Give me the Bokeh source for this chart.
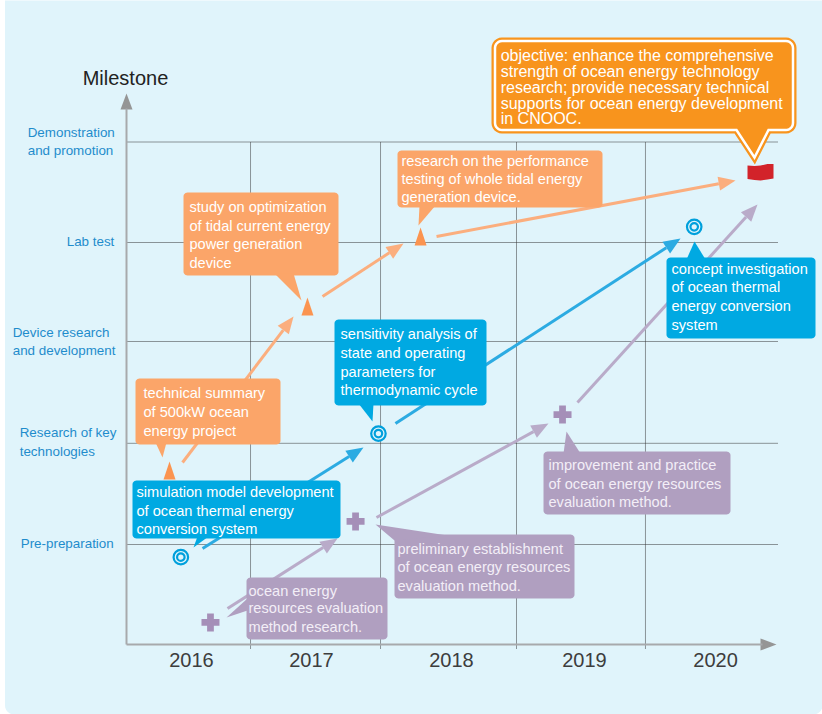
from bokeh.embed import file_html
from bokeh.resources import INLINE
from bokeh.plotting import figure
from bokeh.models import Range1d, LinearAxis, FixedTicker
from bokeh.core.properties import value
import math

# ---------- data: x = year position on the timeline, y = milestone level ----------
YEAR_TICKS = [2016.5, 2017.423, 2018.5, 2019.523, 2020.531]
YEAR_LABELS = ["2016", "2017", "2018", "2019", "2020"]
YEAR_EDGES = [2016.954, 2017.954, 2019.0, 2019.992]
LEVELS = [0.994, 2.0, 3.012, 3.996, 4.995]

ORANGE_X = [2016.331, 2017.392, 2018.262]
ORANGE_Y = [1.730, 3.360, 4.056]
BLUE_X = [2016.418, 2017.938, 2020.367]
BLUE_Y = [0.868, 2.097, 4.152]
PURPLE_X = [2016.646, 2017.762, 2019.354]
PURPLE_Y = [0.219, 1.223, 2.286]
FLAG_X = 2020.877
FLAG_Y = 4.692

# arrows: start year, start level, end year, end level
ORANGE_ARROWS = [(2016.431, 1.809, 2017.285, 3.260),
                 (2017.508, 3.459, 2018.131, 3.986),
                 (2018.385, 4.056, 2020.685, 4.612)]
BLUE_ARROWS = [(2016.585, 0.954, 2017.823, 1.958),
               (2018.069, 2.197, 2020.262, 4.036)]
PURPLE_ARROWS = [(2016.777, 0.358, 2017.623, 1.054),
                 (2017.923, 1.262, 2019.246, 2.197),
                 (2019.469, 2.406, 2020.854, 4.374)]

Y_LABELS = [("Demonstration", 28, 132.5), ("and promotion", 28, 150.5), ("Lab test", 67, 241.5),
            ("Device research", 13, 332.5), ("and development", 13, 350.5),
            ("Research of key", 20, 432.5), ("technologies", 20, 451.5), ("Pre-preparation", 21, 543.5)]

# callouts: box, tail, text left, [(line, centre)]
ORANGE_BOX = "#fba569"
BLUE_BOX = "#00a9e2"
PURPLE_BOX = "#b09fc0"
CALLOUTS = [
    ((183, 192, 338, 275), [(274, 273), (293, 273), (301, 300)], 189, ORANGE_BOX, "white",
     [("study on optimization", 207), ("of tidal current energy", 226), ("power generation", 244.5), ("device", 263)]),
    ((397, 150, 602, 207), [(419, 205), (435, 205), (418, 225)], 401, ORANGE_BOX, "white",
     [("research on the performance", 161), ("testing of whole tidal energy", 179), ("generation device.", 197)]),
    ((135, 378, 280, 444), [(155, 442), (166, 442), (162, 457)], 143, ORANGE_BOX, "white",
     [("technical summary", 393), ("of 500kW ocean", 412), ("energy project", 431)]),
    ((132, 480, 340, 538), [(197, 536), (208, 536), (193, 547)], 136, BLUE_BOX, "white",
     [("simulation model development", 492), ("of ocean thermal energy", 511), ("conversion system", 529)]),
    ((334, 319, 486, 405), [(358, 403), (373, 403), (372, 421)], 340, BLUE_BOX, "white",
     [("sensitivity analysis of", 334), ("state and operating", 353), ("parameters for", 372), ("thermodynamic cycle", 390)]),
    ((666, 257, 815, 338), [(686, 259), (705, 259), (694, 241)], 671, BLUE_BOX, "white",
     [("concept investigation", 269), ("of ocean thermal", 287), ("energy conversion", 306), ("system", 325)]),
    ((246, 577, 387, 639), [(247, 598), (247, 610), (226, 617)], 248, PURPLE_BOX, "#f3eef7",
     [("ocean energy", 591), ("resources evaluation", 608), ("method research.", 627)]),
    ((394, 534, 574, 598), [(375, 524), (447, 535), (394, 540)], 397, PURPLE_BOX, "#f3eef7",
     [("preliminary establishment", 549), ("of ocean energy resources", 567), ("evaluation method.", 586)]),
    ((543, 451, 730, 514), [(563, 453), (580, 453), (566, 431)], 548, PURPLE_BOX, "#f3eef7",
     [("improvement and practice", 465), ("of ocean energy resources", 484), ("evaluation method.", 502)]),
]
OBJECTIVE_LINES = [("objective: enhance the comprehensive", 56), ("strength of ocean energy technology", 72),
                   ("research; provide necessary technical", 88), ("supports for ocean energy development", 104),
                   ("in CNOOC.", 119)]
FLAG_OUTLINE = [(-13, -7), (-6, -6.5), (0, -7), (7, -8.5), (13, -8.5),
                (13, 6), (7, 7), (0, 8), (-6, 7.5), (-13, 6.5)]

# ---------- scales ----------
W, H = 822, 714
PX_YEAR, PX_LEVEL = 130.0, 100.6
X_ORIGIN, Y_ORIGIN = 126.0, 644.0
TEXT_DX, TEXT_DY = -0.8, -0.8


def X(px):
    return 2016 + (px - X_ORIGIN) / PX_YEAR


def Y(py):
    return (Y_ORIGIN - py) / PX_LEVEL


FONT = value("Liberation Sans")
p = figure(width=W, height=H, output_backend="svg", toolbar_location=None,
           x_range=Range1d(X(0), X(W)), y_range=Range1d(Y(H), Y(0)),
           x_axis_type=None, y_axis_type=None, min_border=0, outline_line_color=None,
           background_fill_color="white", border_fill_color="white")
p.styles = {"position": "absolute", "left": "0", "top": "0"}
p.grid.visible = False


def arc_pts(cx, cy, r, a0, a1, n=6):
    return [(cx + r * math.cos(math.radians(a0 + (a1 - a0) * i / n)),
             cy + r * math.sin(math.radians(a0 + (a1 - a0) * i / n))) for i in range(n + 1)]


def rounded(x0, y0, x1, y1, r, bottom_tail=()):
    pts = []
    pts += arc_pts(x0 + r, y0 + r, r, 180, 270)
    pts += arc_pts(x1 - r, y0 + r, r, 270, 360)
    pts += arc_pts(x1 - r, y1 - r, r, 0, 90)
    pts += list(bottom_tail)
    pts += arc_pts(x0 + r, y1 - r, r, 90, 180)
    return [X(a) for a, _ in pts], [Y(b) for _, b in pts]


# panel
px, py = rounded(4.5, -20, 822, 714, 9)
p.patch(px, py, fill_color="#e0f4fb", line_color=None, level="image")

# dotted guide lines
GRID_STYLE = dict(line_color="#333333", line_dash="1 1", line_width=1)
p.segment([2016] * len(LEVELS), LEVELS, [X(777)] * len(LEVELS), LEVELS, **GRID_STYLE)
p.segment(YEAR_EDGES, [Y(648)] * len(YEAR_EDGES), YEAR_EDGES, [LEVELS[-1]] * len(YEAR_EDGES), **GRID_STYLE)

# axes
xax = LinearAxis(fixed_location=0, ticker=FixedTicker(ticks=YEAR_TICKS),
                 major_label_overrides=dict(zip(YEAR_TICKS, YEAR_LABELS)),
                 bounds=(2016, X(762)), axis_line_color="#a7a9ac", axis_line_width=2,
                 major_tick_line_color=None, minor_tick_line_color=None,
                 major_label_text_font="Liberation Sans", major_label_text_font_size="20px",
                 major_label_text_color="#3d3d3d", major_label_standoff=2)
yax = LinearAxis(fixed_location=2016, ticker=FixedTicker(ticks=[]),
                 bounds=(0, Y(108)), axis_line_color="#a7a9ac", axis_line_width=2,
                 major_tick_line_color=None, minor_tick_line_color=None)
p.add_layout(xax, "below")
p.add_layout(yax, "left")
p.patch([X(126), X(120), X(132)], [Y(93), Y(109), Y(109)], fill_color="#959595", line_color=None)
p.patch([X(776), X(760), X(760)], [Y(644), Y(638), Y(650)], fill_color="#959595", line_color=None)


def draw_arrow(a, color):
    x0, y0, x1, y1 = a
    sx0, sy0 = (x0 - 2016) * PX_YEAR, -y0 * PX_LEVEL
    sx1, sy1 = (x1 - 2016) * PX_YEAR, -y1 * PX_LEVEL
    d = math.hypot(sx1 - sx0, sy1 - sy0)
    ux, uy = (sx1 - sx0) / d, (sy1 - sy0) / d
    hl, hw = 17, 7
    bx, by = sx1 - ux * hl, sy1 - uy * hl
    to_x = lambda s: 2016 + s / PX_YEAR
    to_y = lambda s: -s / PX_LEVEL
    p.line([x0, to_x(bx)], [y0, to_y(by)], line_color=color, line_width=3)
    p.patch([x1, to_x(bx - uy * hw), to_x(bx + uy * hw)],
            [y1, to_y(by + ux * hw), to_y(by - ux * hw)], fill_color=color, line_color=None)


for a in ORANGE_ARROWS:
    draw_arrow(a, "#fbae7e")
for a in BLUE_ARROWS:
    draw_arrow(a, "#2cabe2")
for a in PURPLE_ARROWS:
    draw_arrow(a, "#b9abc9")


def lines_text(lines, x, size, color, dx=TEXT_DX):
    p.text([X(x + dx)] * len(lines), [Y(c + TEXT_DY) for _, c in lines], text=[t for t, _ in lines],
           text_font=FONT, text_font_size=value(size), text_color=color,
           text_align="left", text_baseline="middle")


# callouts
for box, tail, tx, fill, tcolor, lines in CALLOUTS:
    bx, by = rounded(*box, 4)
    p.patch(bx, by, fill_color=fill, line_color=None)
    p.patch([X(a) for a, _ in tail], [Y(b) for _, b in tail], fill_color=fill, line_color=None)
    lines_text(lines, tx, "14.6px", tcolor, dx=0)

# objective callout
ox, oy = rounded(494.5, 40.5, 792.5, 129.5, 7, [(768, 129.5), (754, 157), (736, 129.5)])
p.patch(ox, oy, fill_color="#f8941d", line_color="#f8941d", line_width=7, line_join="miter")
p.patch(ox, oy, fill_color="#f8941d", line_color="white", line_width=2.5, line_join="miter")
lines_text(OBJECTIVE_LINES, 501, "16px", "white")

# markers
for mx, my in zip(ORANGE_X, ORANGE_Y):
    sx, sy = (mx - 2016) * PX_YEAR + X_ORIGIN, Y_ORIGIN - my * PX_LEVEL
    p.patch([X(sx), X(sx - 6), X(sx + 6)], [Y(sy - 9), Y(sy + 9), Y(sy + 9)],
            fill_color="#fb9450", line_color=None)
p.scatter(BLUE_X, BLUE_Y, marker="circle", size=14.5, fill_color="#e0f4fb", line_color="#00a0dc", line_width=2.2)
p.scatter(BLUE_X, BLUE_Y, marker="circle", size=7.5, fill_color="#e0f4fb", line_color="#00a0dc", line_width=2.2)
p.scatter(PURPLE_X, PURPLE_Y, marker="plus", size=18, fill_color="#a58fb8", line_color=None)

fx, fy = (FLAG_X - 2016) * PX_YEAR + X_ORIGIN, Y_ORIGIN - FLAG_Y * PX_LEVEL
p.patch([X(fx + a) for a, _ in FLAG_OUTLINE], [Y(fy + b) for _, b in FLAG_OUTLINE], fill_color="#d2232a", line_color=None)

# axis texts
lines_text([("Milestone", 78)], 83, "20px", "#222222")
for t, a, b in Y_LABELS:
    lines_text([(t, b)], a, "13.4px", "#1f8ccc")

open("out.html", "w").write(file_html(p, INLINE))
